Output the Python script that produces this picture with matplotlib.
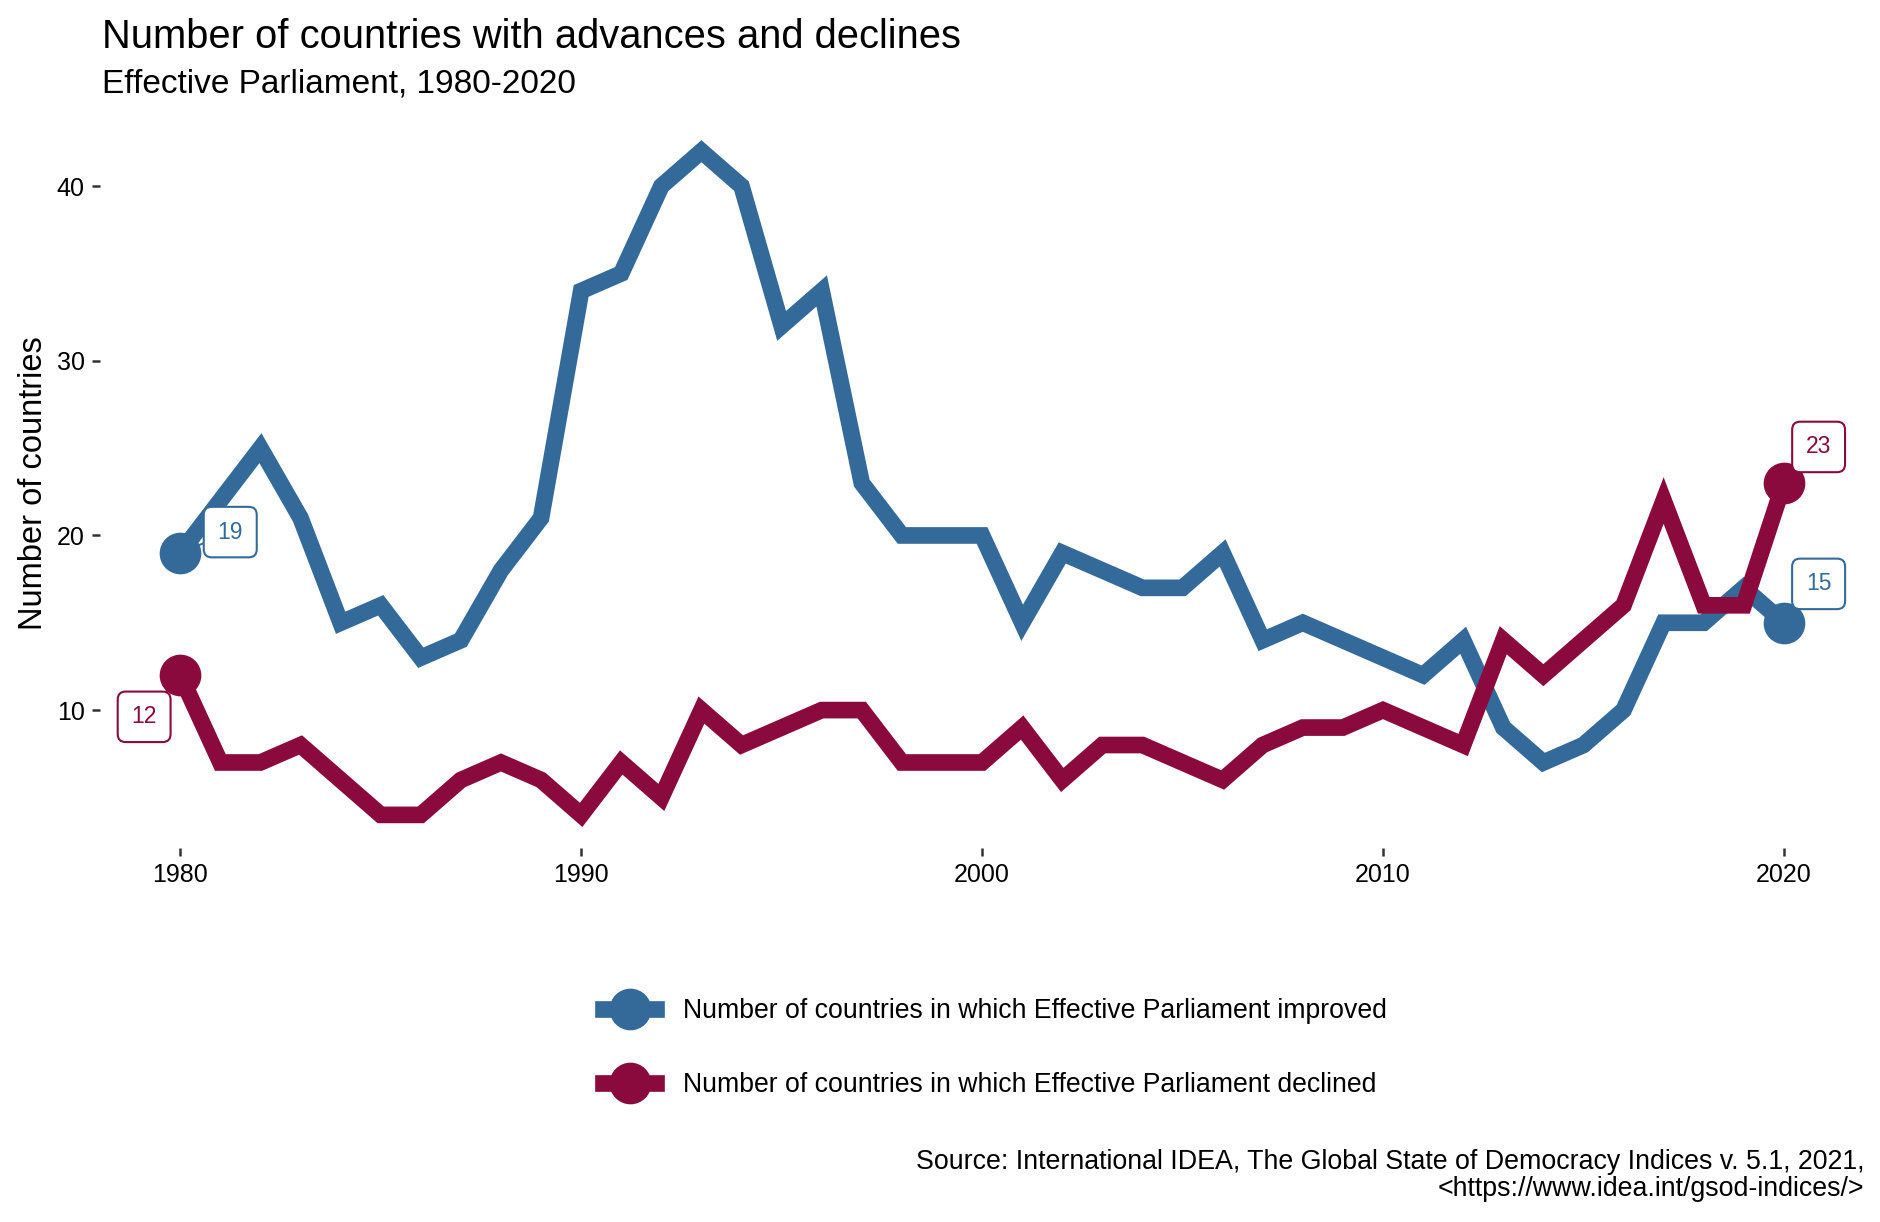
import matplotlib.pyplot as plt
from matplotlib.lines import Line2D

plt.rcParams['font.family'] = ['Liberation Sans', 'DejaVu Sans']

# data
years = list(range(1980, 2021))
improved = [19, 22, 25, 21, 15, 16, 13, 14, 18, 21,
            34, 35, 40, 42, 40, 32, 34, 23, 20, 20,
            20, 15, 19, 18, 17, 17, 19, 14, 15, 14,
            13, 12, 14, 9, 7, 8, 10, 15, 15, 17,
            15]
declined = [12, 7, 7, 8, 6, 4, 4, 6, 7, 6,
            4, 7, 5, 10, 8, 9, 10, 10, 7, 7,
            7, 9, 6, 8, 8, 7, 6, 8, 9, 9,
            10, 9, 8, 14, 12, 14, 16, 22, 16, 16,
            23]
lab_improved = 'Number of countries in which Effective Parliament improved'
lab_declined = 'Number of countries in which Effective Parliament declined'

blue = '#346a99'
red = '#8a0a3d'

fig = plt.figure(figsize=(18.81, 12.22), dpi=100)
ax = fig.add_axes([0.0532, 0.306, 0.9378, 0.5974])

lw = 12
ax.plot(years, improved, color=blue, lw=lw, solid_joinstyle='miter', zorder=3)
ax.plot(years, declined, color=red, lw=lw, solid_joinstyle='miter', zorder=3)

# end points
ms = 29
for series, col in [(improved, blue), (declined, red)]:
    ax.plot([years[0], years[-1]], [series[0], series[-1]], 'o', color=col,
            ms=ms, zorder=4)

# labels at the end points
def label(x, y, col, dx, dy):
    ax.annotate(str(y), xy=(x, y), xytext=(dx, dy), textcoords='offset points',
                ha='center', va='center', fontsize=16.5, color=col, zorder=6,
                bbox=dict(boxstyle='round,pad=0.6,rounding_size=0.35',
                          fc='white', ec=col, lw=1.5),
                arrowprops=dict(arrowstyle='-', color=col, lw=1.4,
                                shrinkA=0, shrinkB=0))

label(years[0], improved[0], blue, 36, 15)
label(years[0], declined[0], red, -26, -30)
label(years[-1], declined[-1], red, 25, 26)
label(years[-1], improved[-1], blue, 25, 28)

ax.set_xlim(1978, 2022)
ax.set_ylim(2.1, 43.9)
ax.set_xticks([1980, 1990, 2000, 2010, 2020])
ax.set_yticks([10, 20, 30, 40])
ax.tick_params(axis='both', labelsize=18, length=6, width=1.8, color='#333333',
               labelcolor='black', pad=5)
for s in ax.spines.values():
    s.set_visible(False)
ax.set_ylabel('Number of countries', fontsize=23.5)
ax.yaxis.set_label_coords(-0.029, 0.5)

fig.text(0.054, 0.970, 'Number of countries with advances and declines',
         fontsize=28.7, va='center', ha='left')
fig.text(0.054, 0.931, 'Effective Parliament, 1980-2020',
         fontsize=24, va='center', ha='left')

handles = [Line2D([], [], color=blue, lw=lw, marker='o', ms=ms),
           Line2D([], [], color=red, lw=lw, marker='o', ms=ms)]
fig.legend(handles, [lab_improved, lab_declined], loc='center',
           bbox_to_anchor=(0.529, 0.1424), frameon=False, fontsize=19.2,
           handlelength=2.0, labelspacing=1.8, handletextpad=1.0)

fig.text(0.991, 0.038, 'Source: International IDEA, The Global State of Democracy Indices v. 5.1, 2021,\n<https://www.idea.int/gsod-indices/>',
         fontsize=19.3, ha='right', va='center', linespacing=1.05)

fig.savefig('out.png', dpi=100, facecolor='white')
